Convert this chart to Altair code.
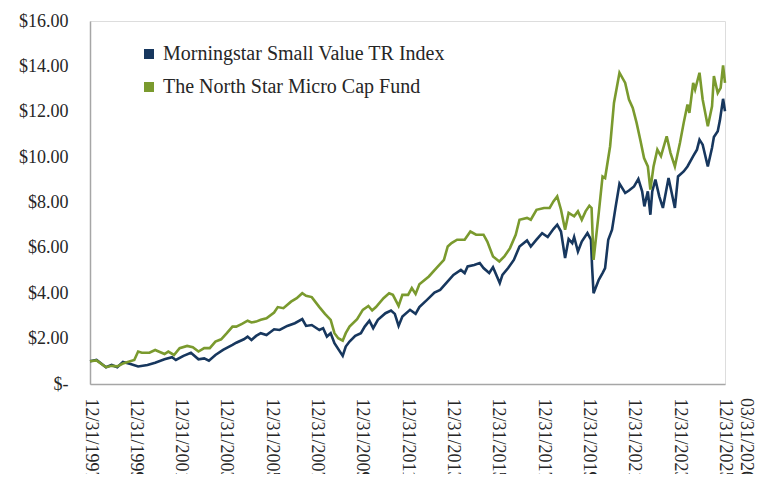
import altair as alt
import pandas as pd

series_names = ["Morningstar Small Value TR Index", "The North Star Micro Cap Fund"]
colors = ["#17375E", "#7A9A2E"]

index_dates = [
    "1997-12-31", "1998-04-15", "1998-09-15", "1998-12-15", "1999-03-15", "1999-06-15",
    "1999-10-15", "2000-02-15", "2000-07-15", "2000-11-15", "2001-04-15", "2001-08-15",
    "2001-10-15", "2002-02-15", "2002-06-15", "2002-10-15", "2003-01-15", "2003-04-01",
    "2003-07-15", "2003-11-15", "2004-04-15", "2004-06-15", "2004-10-15", "2004-12-15",
    "2005-02-15", "2005-05-01", "2005-07-15", "2005-10-15", "2006-02-15", "2006-05-15",
    "2006-09-15", "2007-01-15", "2007-05-15", "2007-07-15", "2007-10-15", "2008-02-15",
    "2008-04-15", "2008-06-15", "2008-08-15", "2008-10-15", "2009-02-25", "2009-04-15",
    "2009-06-15", "2009-09-15", "2009-12-15", "2010-02-15", "2010-05-01", "2010-07-01",
    "2010-09-15", "2011-01-15", "2011-04-15", "2011-06-15", "2011-08-15", "2011-10-15",
    "2012-02-15", "2012-05-15", "2012-07-15", "2012-11-15", "2013-03-15", "2013-06-15",
    "2013-10-15", "2014-01-15", "2014-05-15", "2014-07-15", "2014-09-01", "2014-12-15",
    "2015-03-15", "2015-05-15", "2015-08-15", "2015-10-15", "2016-02-01", "2016-03-15",
    "2016-06-15", "2016-09-15", "2016-12-15", "2017-04-15", "2017-06-15", "2017-09-15",
    "2017-12-15", "2018-03-15", "2018-06-15", "2018-08-15", "2018-10-15", "2018-12-20",
    "2019-02-15", "2019-04-15", "2019-05-15", "2019-07-15", "2019-09-15", "2019-12-15",
    "2020-02-10", "2020-02-28", "2020-03-23", "2020-06-15", "2020-08-15", "2020-09-25",
    "2020-11-15", "2021-01-15", "2021-03-15", "2021-05-15", "2021-08-15", "2021-10-15",
    "2022-01-05", "2022-03-15", "2022-05-15", "2022-06-20", "2022-08-15", "2022-09-25",
    "2022-10-25", "2022-12-15", "2023-02-15", "2023-04-15", "2023-07-15", "2023-10-25",
    "2023-12-15", "2024-03-15", "2024-05-15", "2024-08-15", "2024-10-15", "2024-11-25",
    "2025-01-15", "2025-04-08", "2025-06-15", "2025-07-15", "2025-09-15", "2025-10-20",
    "2025-12-10", "2026-01-10",
]
index_values = [
    1.00, 1.06, 0.74, 0.84, 0.74, 0.97,
    0.88, 0.77, 0.84, 0.94, 1.09, 1.18,
    1.06, 1.24, 1.38, 1.09, 1.13, 1.03,
    1.28, 1.50, 1.72, 1.82, 1.97, 2.09,
    1.94, 2.12, 2.24, 2.16, 2.41, 2.38,
    2.56, 2.68, 2.86, 2.56, 2.60, 2.38,
    2.46, 2.09, 2.24, 1.80, 1.24, 1.65,
    1.87, 2.12, 2.24, 2.53, 2.79, 2.46,
    2.83, 3.12, 3.24, 3.09, 2.56, 2.97,
    3.27, 3.09, 3.39, 3.71, 4.03, 4.15,
    4.52, 4.81, 5.03, 4.89, 5.18, 5.25,
    5.33, 5.11, 4.89, 5.15, 4.45, 4.81,
    5.11, 5.47, 6.06, 6.33, 6.06, 6.36,
    6.65, 6.48, 6.83, 7.02, 6.72, 5.55,
    6.39, 6.21, 6.48, 5.84, 6.28, 6.65,
    6.36, 5.18, 4.00, 4.59, 4.89, 5.11,
    6.36, 6.80, 7.83, 8.83, 8.42, 8.53,
    8.71, 9.04, 8.49, 7.83, 8.49, 7.46,
    8.49, 9.01, 8.27, 7.76, 9.08, 7.76,
    9.15, 9.37, 9.59, 10.04, 10.33, 10.77,
    10.55, 9.59, 10.41, 10.89, 11.14, 11.62,
    12.57, 12.02,
]

fund_dates = [
    "1997-12-31", "1998-04-15", "1998-09-15", "1998-12-15", "1999-03-15", "1999-06-15",
    "1999-12-15", "2000-02-15", "2000-04-15", "2000-08-15", "2000-11-15", "2001-04-15",
    "2001-06-15", "2001-09-15", "2001-12-15", "2002-04-15", "2002-07-15", "2002-10-15",
    "2003-01-15", "2003-04-15", "2003-07-15", "2003-10-15", "2004-01-15", "2004-04-15",
    "2004-06-15", "2004-09-15", "2004-12-15", "2005-02-15", "2005-05-01", "2005-07-15",
    "2005-10-15", "2006-02-15", "2006-04-15", "2006-07-15", "2006-11-15", "2007-02-15",
    "2007-05-15", "2007-07-15", "2007-10-15", "2008-02-15", "2008-05-15", "2008-08-15",
    "2008-10-15", "2008-12-15", "2009-02-25", "2009-04-15", "2009-06-15", "2009-10-15",
    "2010-01-15", "2010-04-15", "2010-06-15", "2010-08-15", "2010-12-15", "2011-03-15",
    "2011-05-15", "2011-08-15", "2011-10-15", "2012-01-15", "2012-03-15", "2012-05-15",
    "2012-07-15", "2012-12-15", "2013-04-15", "2013-08-15", "2013-10-15", "2013-12-15",
    "2014-03-15", "2014-07-15", "2014-10-15", "2015-01-15", "2015-05-15", "2015-07-15",
    "2015-10-15", "2016-01-25", "2016-04-15", "2016-07-15", "2016-10-15", "2016-12-15",
    "2017-04-15", "2017-06-15", "2017-09-15", "2018-01-15", "2018-04-15", "2018-06-15",
    "2018-08-15", "2018-10-15", "2018-12-20", "2019-02-15", "2019-05-15", "2019-07-15",
    "2019-09-15", "2019-11-15", "2020-01-15", "2020-02-20", "2020-03-23", "2020-06-15",
    "2020-08-15", "2020-09-25", "2020-12-15", "2021-02-15", "2021-05-15", "2021-08-15",
    "2021-10-15", "2021-12-15", "2022-02-15", "2022-04-15", "2022-06-15", "2022-08-15",
    "2022-09-25", "2022-11-15", "2023-01-15", "2023-03-15", "2023-06-15", "2023-08-15",
    "2023-10-25", "2024-01-15", "2024-03-15", "2024-05-15", "2024-06-15", "2024-08-15",
    "2024-09-15", "2024-11-25", "2025-01-15", "2025-04-08", "2025-06-15", "2025-07-15",
    "2025-09-15", "2025-11-01", "2025-12-10", "2026-01-10",
]
fund_values = [
    1.00, 1.04, 0.74, 0.80, 0.78, 0.90,
    1.06, 1.43, 1.38, 1.38, 1.50, 1.32,
    1.43, 1.28, 1.58, 1.68, 1.62, 1.43,
    1.58, 1.58, 1.87, 1.97, 2.24, 2.53,
    2.53, 2.65, 2.79, 2.71, 2.75, 2.83,
    2.90, 3.15, 3.39, 3.34, 3.63, 3.78,
    4.00, 3.89, 3.83, 3.39, 3.09, 2.83,
    2.24, 2.02, 1.91, 2.24, 2.53, 2.86,
    3.27, 3.44, 3.24, 3.39, 3.78, 4.00,
    3.93, 3.44, 3.93, 3.93, 4.23, 3.97,
    4.40, 4.74, 5.11, 5.47, 6.06, 6.21,
    6.36, 6.36, 6.72, 6.58, 6.58, 6.28,
    5.62, 5.40, 5.62, 5.99, 6.58, 7.24,
    7.32, 7.24, 7.68, 7.76, 7.76, 8.05,
    8.27, 7.68, 6.80, 7.54, 7.39, 7.61,
    7.24, 7.61, 7.86, 7.76, 5.47, 7.54,
    9.15, 9.08, 10.48, 12.39, 13.72, 13.27,
    12.54, 12.17, 11.51, 10.77, 9.96, 9.59,
    8.57, 9.59, 10.33, 10.04, 10.92, 10.19,
    9.59, 10.63, 11.51, 12.32, 11.95, 13.27,
    12.98, 13.72, 12.54, 11.36, 12.24, 13.57,
    12.83, 13.05, 14.04, 13.27,
]

tick_years = list(range(1997, 2026, 2))
extra_label_dates = ["2026-03-31"]
extra_labels = ["03/31/2026"]
y_ticks = [0, 2, 4, 6, 8, 10, 12, 14, 16]

FONT = "Liberation Serif"
TEXT_COLOR = "#262626"
AXIS_COLOR = "#A6A6A6"

df = pd.concat([
    pd.DataFrame({"date": index_dates, "value": index_values, "series": series_names[0]}),
    pd.DataFrame({"date": fund_dates, "value": fund_values, "series": series_names[1]}),
], ignore_index=True)

label_df = pd.DataFrame({"date": extra_label_dates, "label": extra_labels})

x_scale = alt.Scale(domain=[alt.DateTime(year=1997, month=12, date=31),
                            alt.DateTime(year=2026, month=1, date=10)])

lines = alt.Chart(df).mark_line(strokeWidth=2.6).encode(
    x=alt.X("date:T", scale=x_scale,
            axis=alt.Axis(values=[alt.DateTime(year=y, month=12, date=31) for y in tick_years],
                          format="%m/%d/%Y", labelAngle=90, ticks=False, tickSize=0,
                          labelPadding=14, grid=False, domainColor=AXIS_COLOR, domainWidth=1.5,
                          labelFont=FONT, labelFontSize=18, labelColor=TEXT_COLOR,
                          labelOverlap=False, labelAlign="left", labelBaseline="middle",
                          title=None)),
    y=alt.Y("value:Q", scale=alt.Scale(domain=[0, 16], nice=False),
            axis=alt.Axis(values=y_ticks,
                          labelExpr="datum.value == 0 ? '$-\u00a0\u00a0' : '$' + format(datum.value, '.2f')",
                          ticks=False, tickSize=0, labelPadding=22, grid=False,
                          domainColor=AXIS_COLOR, domainWidth=1.5,
                          labelFont=FONT, labelFontSize=18, labelColor=TEXT_COLOR,
                          title=None)),
    color=alt.Color("series:N", scale=alt.Scale(domain=series_names, range=colors),
                    legend=alt.Legend(title=None, orient="none", legendX=49, legendY=23,
                                      symbolType="square", symbolSize=9, symbolStrokeWidth=7,
                                      labelFont=FONT, labelFontSize=20, labelColor=TEXT_COLOR,
                                      labelOffset=4, rowPadding=1, padding=0,
                                      labelLimit=500)),
    order=alt.Order("date:T"),
)

extra = alt.Chart(label_df).mark_text(
    angle=90, align="left", baseline="middle", dy=-16,
    font=FONT, fontSize=18, color=TEXT_COLOR,
).encode(
    x=alt.X("date:T", scale=x_scale),
    y=alt.value(377),
    text="label:N",
)

chart = alt.layer(lines, extra).properties(
    width=635, height=363,
    autosize=alt.AutoSizeParams(type="none"),
    padding={"left": 82, "top": 13, "right": 30, "bottom": 90},
).configure_view(stroke=None).configure(background="white")

chart.save("out.html", embed_options={"renderer": "svg", "actions": False})
